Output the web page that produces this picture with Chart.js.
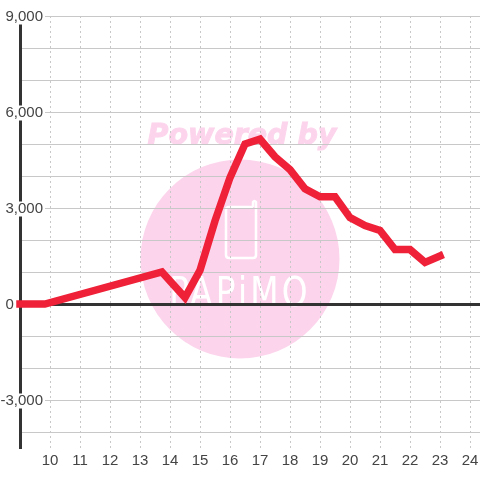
<!DOCTYPE html>
<html><head><meta charset="utf-8">
<style>html,body{margin:0;padding:0;background:#fff}canvas{display:block}</style>
<script src="https://cdn.jsdelivr.net/npm/chart.js@4"></script></head>
<body><canvas id="c" width="480" height="480" style="width:480px;height:480px"></canvas>
<script>
const hours = [9, 9.83, 13.73, 14.5, 15, 15.5, 16, 16.5, 17, 17.5, 18, 18.5, 19, 19.5, 20, 20.5, 21, 21.5, 22, 22.5, 23];
const values = [0, 0, 1000, 200, 1050, 2600, 3950, 5000, 5150, 4600, 4200, 3600, 3350, 3350, 2700, 2450, 2300, 1700, 1700, 1300, 1500];
const xTickValues = [10,11,12,13,14,15,16,17,18,19,20,21,22,23,24];
const yLabelled = [-3000, 0, 3000, 6000, 9000];
const watermarkTitle = 'Powered by';
const watermarkName = 'PAPiMO';

const PINK = '#fcd5ec';
const watermark = {
  id: 'watermark',
  beforeDraw(chart) {
    const c = chart.ctx;
    c.save();
    c.fillStyle = '#fff';
    c.fillRect(0, 0, 480, 480);
    c.fillStyle = PINK;
    c.beginPath(); c.arc(240, 259, 99.5, 0, Math.PI * 2); c.fill();
    c.font = 'italic bold 28.5px "DejaVu Sans"';
    c.textAlign = 'center'; c.textBaseline = 'alphabetic';
    c.strokeStyle = PINK; c.lineWidth = 1;
    c.fillText(watermarkTitle, 242, 144);
    c.strokeText(watermarkTitle, 242, 144);
    c.strokeStyle = '#fff'; c.lineWidth = 2.5; c.lineJoin = 'round';
    c.beginPath();
    c.moveTo(253, 207); c.lineTo(229, 207); c.quadraticCurveTo(226, 207, 226, 210);
    c.lineTo(226, 255); c.quadraticCurveTo(226, 258, 229, 258);
    c.lineTo(253, 258); c.quadraticCurveTo(256, 258, 256, 255);
    c.lineTo(256, 202); c.quadraticCurveTo(254.5, 200, 253, 202); c.lineTo(253, 207);
    c.stroke();
    c.fillStyle = '#fff';
    c.translate(240, 306);
    c.scale(0.8, 1);
    c.font = '41px "DejaVu Sans"';
    c.letterSpacing = '4px';
    c.textAlign = 'center';
    c.fillText(watermarkName, 0, 0);
    c.restore();
  }
};

const tickFont = { family: '"Liberation Sans"', size: 15, lineHeight: 1 };
new Chart(document.getElementById('c'), {
  type: 'scatter',
  plugins: [watermark],
  data: { datasets: [{
    data: hours.map((h, i) => ({ x: h, y: values[i] })),
    showLine: true, borderColor: '#ee2138', borderWidth: 7.5, tension: 0,
    pointRadius: 0, pointHoverRadius: 0, clip: false, borderCapStyle: 'square', borderJoinStyle: 'miter'
  }] },
  options: {
    responsive: false, animation: false, events: [], devicePixelRatio: 1,
    layout: { autoPadding: false, padding: { top: 16, right: 0, left: 0, bottom: 0 } },
    plugins: { legend: { display: false }, tooltip: { enabled: false } },
    scales: {
      x: {
        type: 'linear', min: 9, max: 24.3333,
        afterBuildTicks: s => { s.ticks = xTickValues.map(v => ({ value: v })); },
        afterFit: s => { s.height = 32; s.paddingRight = 0; s.paddingLeft = 0; },
        grid: { color: '#c8c8c8', lineWidth: 1, drawTicks: false },
        border: { display: false, dash: [2, 3] },
        ticks: { color: '#444', font: tickFont, autoSkip: false, maxRotation: 0, padding: 5 }
      },
      y: {
        type: 'linear', min: -4500, max: 9000,
        afterBuildTicks: s => {
          const t = []; for (let v = -4000; v <= 9000; v += 1000) t.push({ value: v });
          s.ticks = t;
        },
        afterFit: s => { s.width = 20; s.paddingTop = 0; s.paddingBottom = 0; s._computeLabelArea = () => undefined; },
        grid: {
          drawTicks: false,
          color: c => c.tick && c.tick.value === 0 ? '#333' : '#c8c8c8',
          lineWidth: c => c.tick && c.tick.value === 0 ? 3 : 1
        },
        border: { color: '#333', width: 3 },
        ticks: {
          color: '#444', font: tickFont, autoSkip: false, padding: -23, labelOffset: 1,
          callback: v => yLabelled.includes(v)
            ? (v === 0 ? '0\u00a0\u00a0\u00a0\u00a0\u00a0\u00a0\u00a0' : v.toLocaleString('en-US'))
            : '',
          showLabelBackdrop: c => c.tick && c.tick.value !== 0 && yLabelled.includes(c.tick.value),
          backdropColor: '#fff',
          backdropPadding: { left: 2, right: 2, top: 0, bottom: 0 }
        }
      }
    }
  }
});
</script></body></html>
